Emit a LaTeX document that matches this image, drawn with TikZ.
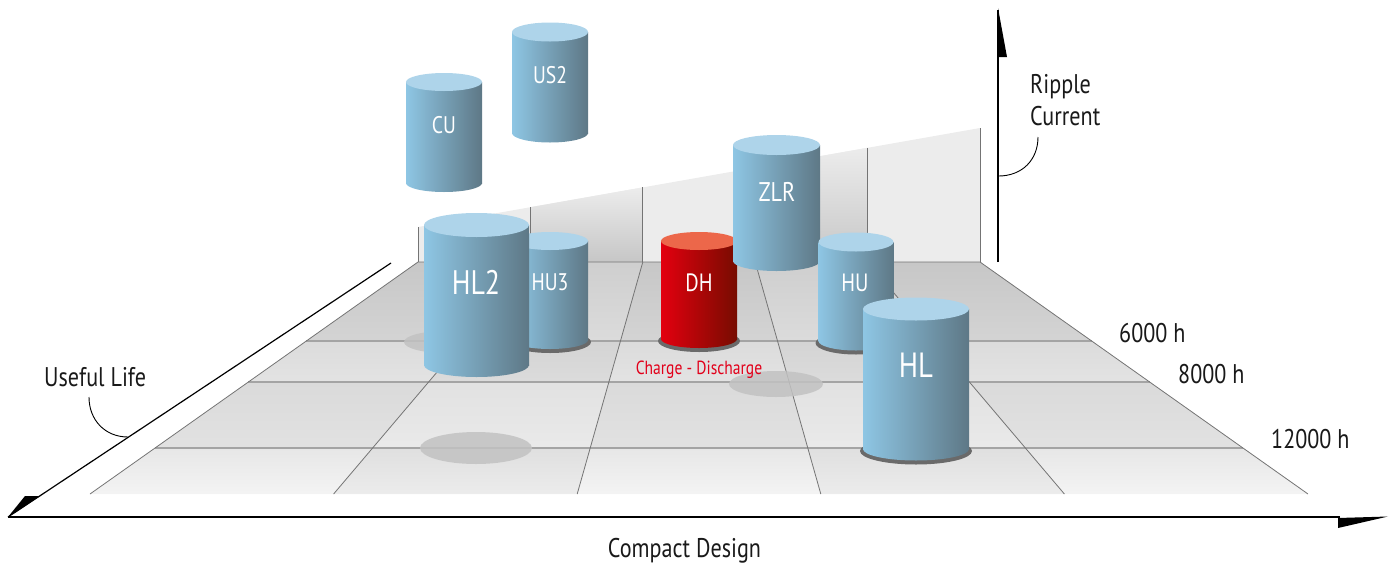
\documentclass[tikz,border=0pt]{standalone}
\usepackage{fontspec}
\setmainfont{PT Sans}[FakeStretch=0.82]
\usetikzlibrary{calc}
\definecolor{bluel}{HTML}{8EC6E4}
\definecolor{bluer}{HTML}{5E7886}
\definecolor{bluet}{HTML}{AED4EA}
\definecolor{redl}{HTML}{E3000F}
\definecolor{redr}{HTML}{770C00}
\definecolor{redt}{HTML}{EC674A}
\definecolor{ringgray}{HTML}{6A6A6A}
\definecolor{shadowgray}{HTML}{C2C2C2}
\definecolor{gridgray}{HTML}{A4A4A4}
\definecolor{edgegray}{HTML}{747474}
\definecolor{wallgray}{HTML}{ECECEC}
\definecolor{walldark}{HTML}{C6C6C6}
\definecolor{chargered}{HTML}{E2001A}
\def\cylinder[#1](#2,#3)(#4:#5:#6){%
  \shade[left color=#1l, right color=#1r] (#2-#5,#3) rectangle (#2+#5,#4);
  \shade[left color=#1l, right color=#1r] (#2,#4) ellipse [x radius=#5pt, y radius=#6pt];
  \fill[#1t] (#2,#3) ellipse [x radius=#5pt, y radius=#6pt];}
\def\cylring(#1,#2)(#3:#4){\fill[ringgray] (#1,#2+2) ellipse [x radius=#3pt+3pt, y radius=#4pt+2pt];}
\tikzset{
  axisline/.style={line width=1.2pt, black},
  leader/.style={line width=0.9pt, black},
  edgeline/.style={line width=0.8pt, edgegray},
  gridline/.style={line width=1.8pt, gridgray},
  axislabel/.style={font=\fontsize{27}{27}\selectfont, text=black!90, inner sep=0pt},
  cyllabel/.style={text=white, inner sep=0pt},
}

\begin{document}
\begin{tikzpicture}[x=1pt, y=-1pt]
			%%%%% START %%%%%
			\useasboundingbox (0,0) rectangle (1390,563);
			
			% back wall
			\fill[wallgray] (418,262) -- (418,227) -- (980,128) -- (980,262) -- cycle;
			\shade[top color=wallgray, bottom color=walldark] (530.4,207.2) -- (642.8,187.4) -- (642.8,262) -- (530.4,262) -- cycle;
			\shade[top color=wallgray, bottom color=walldark] (755.2,167.6) -- (867.6,147.8) -- (867.6,262) -- (755.2,262) -- cycle;
			\foreach \x/\y in {418/227, 530.4/207.2, 642.8/187.4, 755.2/167.6, 867.6/147.8, 980/128}
				\draw[edgeline] (\x,\y) -- (\x,262);
			
			% floor tiles
			\foreach \ya/\yb/\ga/\gb [count=\j] in {262/341/0.78/0.83, 341/382/0.83/0.86, 382/448/0.855/0.885, 448/494/0.875/0.925}{
				\pgfmathsetmacro\la{418-(\ya-262)*1.41379}
				\pgfmathsetmacro\wa{(562+(\ya-262)*2.82759)/5}
				\pgfmathsetmacro\lb{418-(\yb-262)*1.41379}
				\pgfmathsetmacro\wb{(562+(\yb-262)*2.82759)/5}
				\foreach \i in {0,...,4}{
					\pgfmathsetmacro\dd{mod(\i+\j,2)==0 ? 0.03 : 0}
					\pgfmathsetmacro\ta{\ga+\dd}
					\pgfmathsetmacro\tb{\gb+\dd}
					\definecolor{tiletop}{gray}{\ta}
					\definecolor{tilebot}{gray}{\tb}
					\shade[top color=tiletop, bottom color=tilebot] (\la+\i*\wa,\ya) -- (\la+\i*\wa+\wa,\ya) -- (\lb+\i*\wb+\wb,\yb) -- (\lb+\i*\wb,\yb) -- cycle;
				}
			}
			
			% floor lines
			\foreach \y in {341,382,448}{
				\pgfmathsetmacro\xa{418-(\y-262)*1.41379}
				\pgfmathsetmacro\xb{980+(\y-262)*1.41379}
				\draw[gridline] (\xa,\y) -- (\xb,\y);
			}
			\foreach \i in {1,...,4}
				\draw[edgeline] (418+\i*112.4,262) -- (90+\i*243.6,494);
			\draw[edgeline] (90,494) -- (418,262) -- (980,262) -- (1308,494);
			
			% shadows on the floor
			\fill[shadowgray, fill opacity=0.85] (445,342) ellipse [x radius=41pt, y radius=11pt];
			\fill[shadowgray, fill opacity=0.85] (776,384) ellipse [x radius=47pt, y radius=13pt];
			\fill[shadowgray, fill opacity=0.85] (476,448) ellipse [x radius=56pt, y radius=16pt];
			
			% axes
			\draw[axisline] (8,517) -- (1340,517);
			\fill (1338,518) -- (1388,516.5) -- (1338,528) -- cycle;
			\draw[axisline] (8,517) -- (391,263);
			\fill (8,517) -- (25,496) -- (40,496) -- cycle;
			\draw[axisline] (998,262) -- (998,10);
			\fill (998,8) -- (1007,57) -- (998,57) -- cycle;
			
			% cylinders
			\cylinder[blue](550,32)(133:38:9.5)
			\cylinder[blue](444,82)(183:38:9)
			\cylring(550,340)(38:9)
			\cylinder[blue](550,241)(340:38:9)
			\cylinder[blue](476.5,225)(365:52.5:12)
			\cylring(699,339)(38:9)
			\cylinder[red](699,241)(339:38:9)
			\cylinder[blue](776.5,145)(261:43.5:10)
			\cylring(856,341)(37.5:9.5)
			\cylinder[blue](856,242)(341:37.5:9.5)
			\cylring(916,449)(53:11.5)
			\cylinder[blue](916,309)(449:53:11.5)
			
			\node[cyllabel, font=\fontsize{24}{24}\selectfont] (us2) at (550,75) {US2};
			\node[cyllabel, font=\fontsize{24}{24}\selectfont] (cu) at (444,125) {CU};
			\node[cyllabel, font=\fontsize{24}{24}\selectfont] (hu3) at (550,282) {HU3};
			\node[cyllabel, font=\fontsize{34}{34}\selectfont] (hl2) at (476,282) {HL2};
			\node[cyllabel, font=\fontsize{25}{25}\selectfont] (dh) at (699,283) {DH};
			\node[cyllabel, font=\fontsize{27}{27}\selectfont] (zlr) at (777,192) {ZLR};
			\node[cyllabel, font=\fontsize{25}{25}\selectfont] (hu) at (855,283) {HU};
			\node[cyllabel, font=\fontsize{35}{35}\selectfont] (hl) at (916,365) {HL};
			\node[inner sep=0pt, text=chargered, font=\fontsize{19}{19}\selectfont, anchor=base] (charge) at (699,374) {Charge - Discharge};
			
			% axis labels
			\node[axislabel, anchor=base west] (life) at (44,386) {Useful Life};
			\node[axislabel, anchor=base] (compact) at (684.5,557) {Compact Design};
			\node[axislabel, anchor=base west] (ripple) at (1030,93) {Ripple};
			\node[axislabel, anchor=base west] (current) at (1030,125) {Current};
			\node[axislabel, anchor=base west] (h6000) at (1119,342) {6000 h};
			\node[axislabel, anchor=base west] (h8000) at (1178,383) {8000 h};
			\node[axislabel, anchor=base west] (h12000) at (1271,448) {12000 h};
			
			% leaders
			\coordinate (lifetail) at (89,397);
			\coordinate (lifeaxis) at (128,437);
			\coordinate (currenttail) at (1038,137);
			\coordinate (currentaxis) at (998.5,176);
			\draw[leader] (lifetail) .. controls (89,420) and (105,437) .. (lifeaxis);
			\draw[leader] (currenttail) .. controls (1038,160) and (1022,176) .. (currentaxis);
			
			%%%%% END %%%%%
\end{tikzpicture}
\end{document}
